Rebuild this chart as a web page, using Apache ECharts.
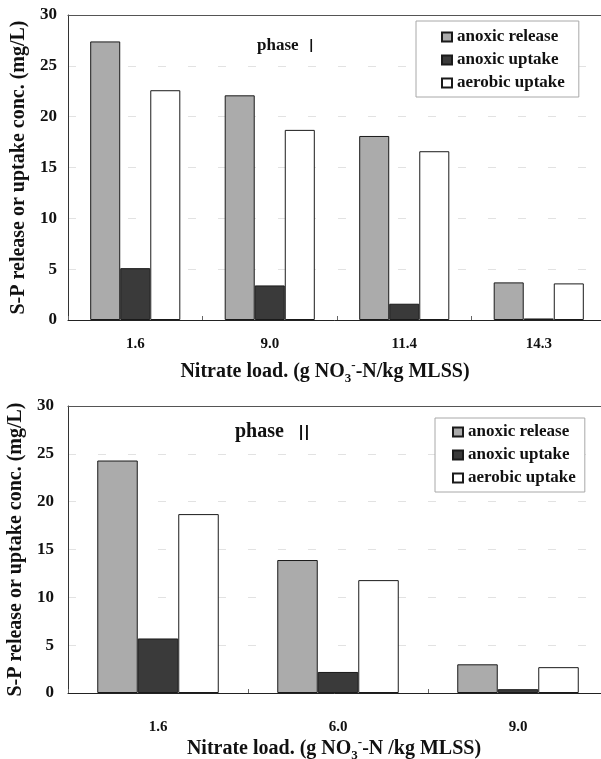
<!DOCTYPE html>
<html>
<head>
<meta charset="utf-8">
<script src="https://cdn.jsdelivr.net/npm/echarts@6/dist/echarts.min.js"></script>
<style>
html,body{margin:0;padding:0;background:#fff;}
#c{width:601px;height:759px;}
</style>
</head>
<body>
<div id="c"></div>
<script>
// ---- data ----
var seriesNames = ['anoxic release', 'anoxic uptake', 'aerobic uptake'];
var cats1 = ['1.6', '9.0', '11.4', '14.3'];
var release1 = [27.4, 22.1, 18.1, 3.7];
var uptake1 = [5.1, 3.4, 1.6, 0.15];
var aerobic1 = [22.6, 18.7, 16.6, 3.6];
var cats2 = ['1.6', '6.0', '9.0'];
var release2 = [24.3, 13.9, 3.0];
var uptake2 = [5.7, 2.2, 0.4];
var aerobic2 = [18.7, 11.8, 2.7];
var yTicks = [0, 5, 10, 15, 20, 25, 30];
var phase1Label = 'phase';
var phase2Label = 'phase';

var FONT = 'Liberation Serif';
var TXT = '#111';
var fills = ['#ababab', '#3a3a3a', '#ffffff'];

var chart = echarts.init(document.getElementById('c'), null, {renderer: 'canvas'});

function yAxis(gi, margin, fs) {
  return {
    type: 'value', gridIndex: gi, min: yTicks[0], max: yTicks[yTicks.length - 1], interval: 5,
    name: 'S-P release or uptake conc. (mg/L)',
    nameLocation: 'middle', nameGap: 39, nameRotate: 90,
    nameTextStyle: {fontFamily: FONT, fontWeight: 'bold', fontSize: 20, color: TXT},
    axisLine: {show: true, lineStyle: {color: '#333', width: 1}},
    axisTick: {show: false},
    axisLabel: {fontFamily: FONT, fontWeight: 'bold', fontSize: fs, color: TXT, margin: margin},
    splitLine: {show: true, lineStyle: {color: '#e2e2e2', type: [8, 22], width: 1}}
  };
}
var rich = {
  sub: {fontFamily: FONT, fontWeight: 'bold', fontSize: 13, color: TXT, verticalAlign: 'bottom', lineHeight: 26},
  sup: {fontFamily: FONT, fontWeight: 'bold', fontSize: 13, color: TXT, verticalAlign: 'top', lineHeight: 26}
};
function xAxis(gi, cats, name, nameGap, labelMargin, padRight) {
  return {
    type: 'category', gridIndex: gi, data: cats,
    name: name, nameLocation: 'middle', nameGap: nameGap,
    nameTextStyle: {fontFamily: FONT, fontWeight: 'bold', fontSize: 20, color: TXT, lineHeight: 26, padding: [0, padRight, 0, 0], rich: rich},
    axisLine: {show: true, lineStyle: {color: '#222', width: 1}},
    axisTick: {show: true, inside: true, length: 4, lineStyle: {color: '#666'}},
    axisLabel: {fontFamily: FONT, fontWeight: 'bold', fontSize: 15, color: TXT, margin: labelMargin},
    splitLine: {show: false}
  };
}
function topBorder(gi, cats) {
  return {
    type: 'category', gridIndex: gi, data: cats, position: 'top',
    axisLine: {show: true, lineStyle: {color: '#555', width: 1.2}},
    axisTick: {show: false}, axisLabel: {show: false}, splitLine: {show: false}
  };
}
function bars(gi, data, idx, gap) {
  return {
    type: 'bar', name: seriesNames[idx], xAxisIndex: gi, yAxisIndex: gi, data: data,
    barGap: '0%', barCategoryGap: gap,
    itemStyle: {color: fills[idx], borderColor: '#1a1a1a', borderWidth: 1},
    emphasis: {disabled: true}, animation: false
  };
}
function legend(left, top, padding, gap) {
  return {
    orient: 'vertical', left: left, top: top, padding: padding, itemGap: gap,
    itemWidth: 10, itemHeight: 9, icon: 'rect',
    borderColor: '#a8a8a8', borderWidth: 1, backgroundColor: '#fff',
    formatter: function (n) { return '{t|' + n + '}'; },
    textStyle: {fontFamily: FONT, fontWeight: 'bold', fontSize: 17, color: TXT, lineHeight: 18,
      rich: {t: {fontFamily: FONT, fontWeight: 'bold', fontSize: 17, color: TXT, lineHeight: 18}}},
    data: seriesNames
  };
}

chart.setOption({
  animation: false,
  backgroundColor: '#fff',
  grid: [
    {left: 68, top: 15, width: 538, height: 305, outerBoundsMode: 'none', containLabel: false, show: false},
    {left: 68, top: 406, width: 540, height: 287, outerBoundsMode: 'none', containLabel: false, show: false}
  ],
  xAxis: [
    xAxis(0, cats1, 'Nitrate load. (g NO{sub|3}{sup|-}-N/kg MLSS)', 39, 17, 24),
    xAxis(1, cats2, 'Nitrate load. (g NO{sub|3}{sup|-}-N /kg MLSS)', 43, 27, 8),
    topBorder(0, cats1),
    topBorder(1, cats2)
  ],
  yAxis: [yAxis(0, 11, 17), yAxis(1, 14, 17)],
  legend: [
    legend(416, 21, [7, 14, 5, 25], 5),
    legend(435, 418, [5, 9, 5, 17], 5)
  ],
  graphic: [
    {type: 'text', left: 257, top: 37, silent: true,
     style: {text: phase1Label + ' {r|Ⅰ}', font: 'bold 17px "Liberation Serif"', fill: TXT,
             rich: {r: {fontFamily: 'Noto Sans CJK JP', fontSize: 17, fontWeight: 'normal', fill: TXT}}}},
    {type: 'text', left: 235, top: 422, silent: true,
     style: {text: phase2Label + '  {r|Ⅱ}', font: 'bold 20px "Liberation Serif"', fill: TXT,
             rich: {r: {fontFamily: 'Noto Sans CJK JP', fontSize: 20, fontWeight: 'normal', fill: TXT}}}}
  ],
  series: [
    bars(0, release1, 0, '33%'), bars(0, uptake1, 1, '33%'), bars(0, aerobic1, 2, '33%'),
    bars(1, release2, 0, '32.5%'), bars(1, uptake2, 1, '32.5%'), bars(1, aerobic2, 2, '32.5%')
  ]
});
</script>
</body>
</html>
